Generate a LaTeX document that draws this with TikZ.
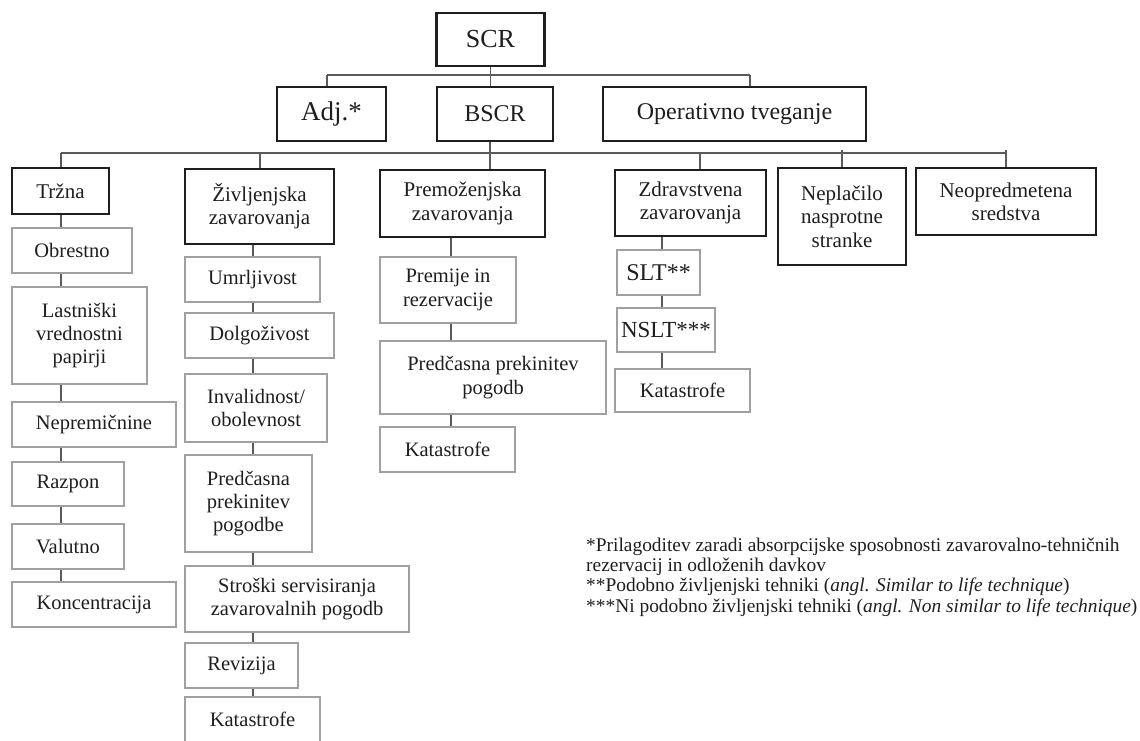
\documentclass[tikz,border=0pt]{standalone}
\usepackage{fontspec}
\setmainfont{Liberation Serif}
\usetikzlibrary{backgrounds}
\definecolor{leafgray}{HTML}{A0A0A0}
\definecolor{linegray}{HTML}{5A5A5A}
\definecolor{ink}{HTML}{1E1E1E}
\newcommand{\myfs}[2]{\fontsize{#1}{#2}\selectfont}
\begin{document}
\begin{tikzpicture}[x=1pt,y=-1pt,
  hdr/.style={draw=ink, line width=2.6pt, fill=white, inner sep=0pt, align=center, text=ink},
  leaf/.style={draw=leafgray, line width=2pt, fill=white, inner sep=0pt, align=center, text=ink},
  conn/.style={draw=linegray, line width=1.4pt},
  f1/.style={font=\myfs{21}{23.3}},
  f2/.style={font=\myfs{20.5}{23.3}}]
\useasboundingbox (0,0) rectangle (1140,740);

% top level
\node[hdr, minimum width=108pt, minimum height=53pt, font=\myfs{26}{30}] (SCR) at (490.5,39.5) {SCR};
\node[hdr, minimum width=109pt, minimum height=54pt, font=\myfs{27}{30}] (Adj) at (331.5,114) {Adj.*};
\node[hdr, minimum width=116pt, minimum height=54pt, font=\myfs{24}{28}] (BSCR) at (495,114) {BSCR};
\node[hdr, minimum width=263pt, minimum height=54pt, font=\myfs{24}{28}] (Oper) at (734.5,114) {Operativno tveganje};

% second level
\node[hdr, f1, minimum width=97pt, minimum height=46pt] (Trz) at (60.5,191) {Tržna};
\node[hdr, f1, minimum width=149pt, minimum height=75pt] (Ziv) at (259.5,206.5) {Življenjska\\zavarovanja};
\node[hdr, f1, minimum width=165pt, minimum height=67pt] (Prem) at (462.5,203.5) {Premoženjska\\zavarovanja};
\node[hdr, f1, minimum width=151pt, minimum height=66pt] (Zdr) at (690.5,203) {Zdravstvena\\zavarovanja};
\node[hdr, f1, minimum width=128pt, minimum height=97pt] (Nepl) at (842,216.5) {Neplačilo\\nasprotne\\stranke};
\node[hdr, f1, minimum width=180pt, minimum height=67pt] (Neop) at (1006,201.5) {Neopredmetena\\sredstva};

% Trzna column
\node[leaf, f2, minimum width=120pt, minimum height=45pt] (Obr) at (72,250.5) {Obrestno};
\node[leaf, f2, minimum width=135pt, minimum height=97pt] (Last) at (79.5,335.5) {Lastniški\\vrednostni\\papirji};
\node[leaf, f2, minimum width=164pt, minimum height=45pt] (Nepr) at (94,424.5) {Nepremičnine};
\node[leaf, f2, minimum width=112pt, minimum height=44pt] (Razp) at (68,484) {Razpon};
\node[leaf, f2, minimum width=112pt, minimum height=45pt] (Val) at (68,546.5) {Valutno};
\node[leaf, f2, minimum width=164pt, minimum height=45pt] (Konc) at (94,604.5) {Koncentracija};

% Zivljenjska column
\node[leaf, f2, minimum width=135pt, minimum height=45pt] (Umr) at (252.5,279.5) {Umrljivost};
\node[leaf, f2, minimum width=149pt, minimum height=45pt] (Dolg) at (259.5,335.5) {Dolgoživost};
\node[leaf, f2, minimum width=142pt, minimum height=68pt] (Inv) at (256,408) {Invalidnost/\\obolevnost};
\node[leaf, f2, minimum width=127pt, minimum height=97pt] (PredZ) at (248.5,503.5) {Predčasna\\prekinitev\\pogodbe};
\node[leaf, f2, minimum width=224pt, minimum height=66pt] (Stro) at (297,599) {Stroški servisiranja\\zavarovalnih pogodb};
\node[leaf, f2, minimum width=113pt, minimum height=45pt] (Rev) at (241.5,665.5) {Revizija};
\node[leaf, f2, minimum width=135pt, minimum height=45pt] (KatZ) at (252.5,719.5) {Katastrofe};

% Premozenjska column
\node[leaf, f2, minimum width=136pt, minimum height=66pt] (Prmj) at (448,290) {Premije in\\rezervacije};
\node[leaf, f2, minimum width=226pt, minimum height=73pt] (PredP) at (493,377.5) {Predčasna prekinitev\\pogodb};
\node[leaf, f2, minimum width=135pt, minimum height=45pt] (KatP) at (447.5,449.5) {Katastrofe};

% Zdravstvena column
\node[leaf, font=\myfs{24}{28}, minimum width=83pt, minimum height=45pt] (SLT) at (658.5,272.5) {SLT**};
\node[leaf, font=\myfs{23}{28}, minimum width=98pt, minimum height=44pt] (NSLT) at (666,330) {NSLT***};
\node[leaf, f2, minimum width=135pt, minimum height=43pt] (KatH) at (682.5,390.5) {Katastrofe};

% footnotes
\node[anchor=base west, align=left, inner sep=0pt, text=ink, font=\myfs{19.4}{20.3}] (fn) at (586,612)
 {*Prilagoditev zaradi absorpcijske sposobnosti zavarovalno-tehničnih\\
  rezervacij in odloženih davkov\\
  **Podobno življenjski tehniki (\textit{angl. Similar to life technique})\\
  ***Ni podobno življenjski tehniki (\textit{angl. Non similar to life technique})};

% connectors
\begin{pgfonlayer}{background}
\coordinate (b1L) at (327,75);
\coordinate (b1R) at (750,75);
\coordinate (s2) at (490,153);
\coordinate (b2L) at (61,153);
\coordinate (b2R) at (1006,153);
\coordinate (dZiv) at (260,153);
\coordinate (dZdr) at (700,153);
\coordinate (dNepl) at (842,153);
\coordinate (cT) at (61,0);
\coordinate (cZ) at (253,0);
\coordinate (cP) at (451,0);
\coordinate (cH) at (662,0);
\draw[conn] (SCR.south) -- (SCR.south |- BSCR.north);
\draw[conn] (b1L) -- (b1R);
\draw[conn] (b1L) -- (b1L |- Adj.north);
\draw[conn] (b1R) -- (b1R |- Oper.north);
\draw[conn] (BSCR.south -| s2) -- (s2);
\draw[conn] (b2L) -- (b2R);
\draw[conn] (b2L) -- (b2L |- Trz.north);
\draw[conn] (dZiv) -- (dZiv |- Ziv.north);
\draw[conn] (s2) -- (s2 |- Prem.north);
\draw[conn] (dZdr) -- (dZdr |- Zdr.north);
\draw[conn] (dNepl) ++(0,-3) -- (dNepl |- Nepl.north);
\draw[conn] (b2R) ++(0,-3) -- (b2R |- Neop.north);
\draw[conn] (Trz.south -| cT) -- (Konc.north -| cT);
\draw[conn] (Ziv.south -| cZ) -- (KatZ.north -| cZ);
\draw[conn] (Prem.south -| cP) -- (KatP.north -| cP);
\draw[conn] (Zdr.south -| cH) -- (KatH.north -| cH);
\end{pgfonlayer}
\end{tikzpicture}
\end{document}
